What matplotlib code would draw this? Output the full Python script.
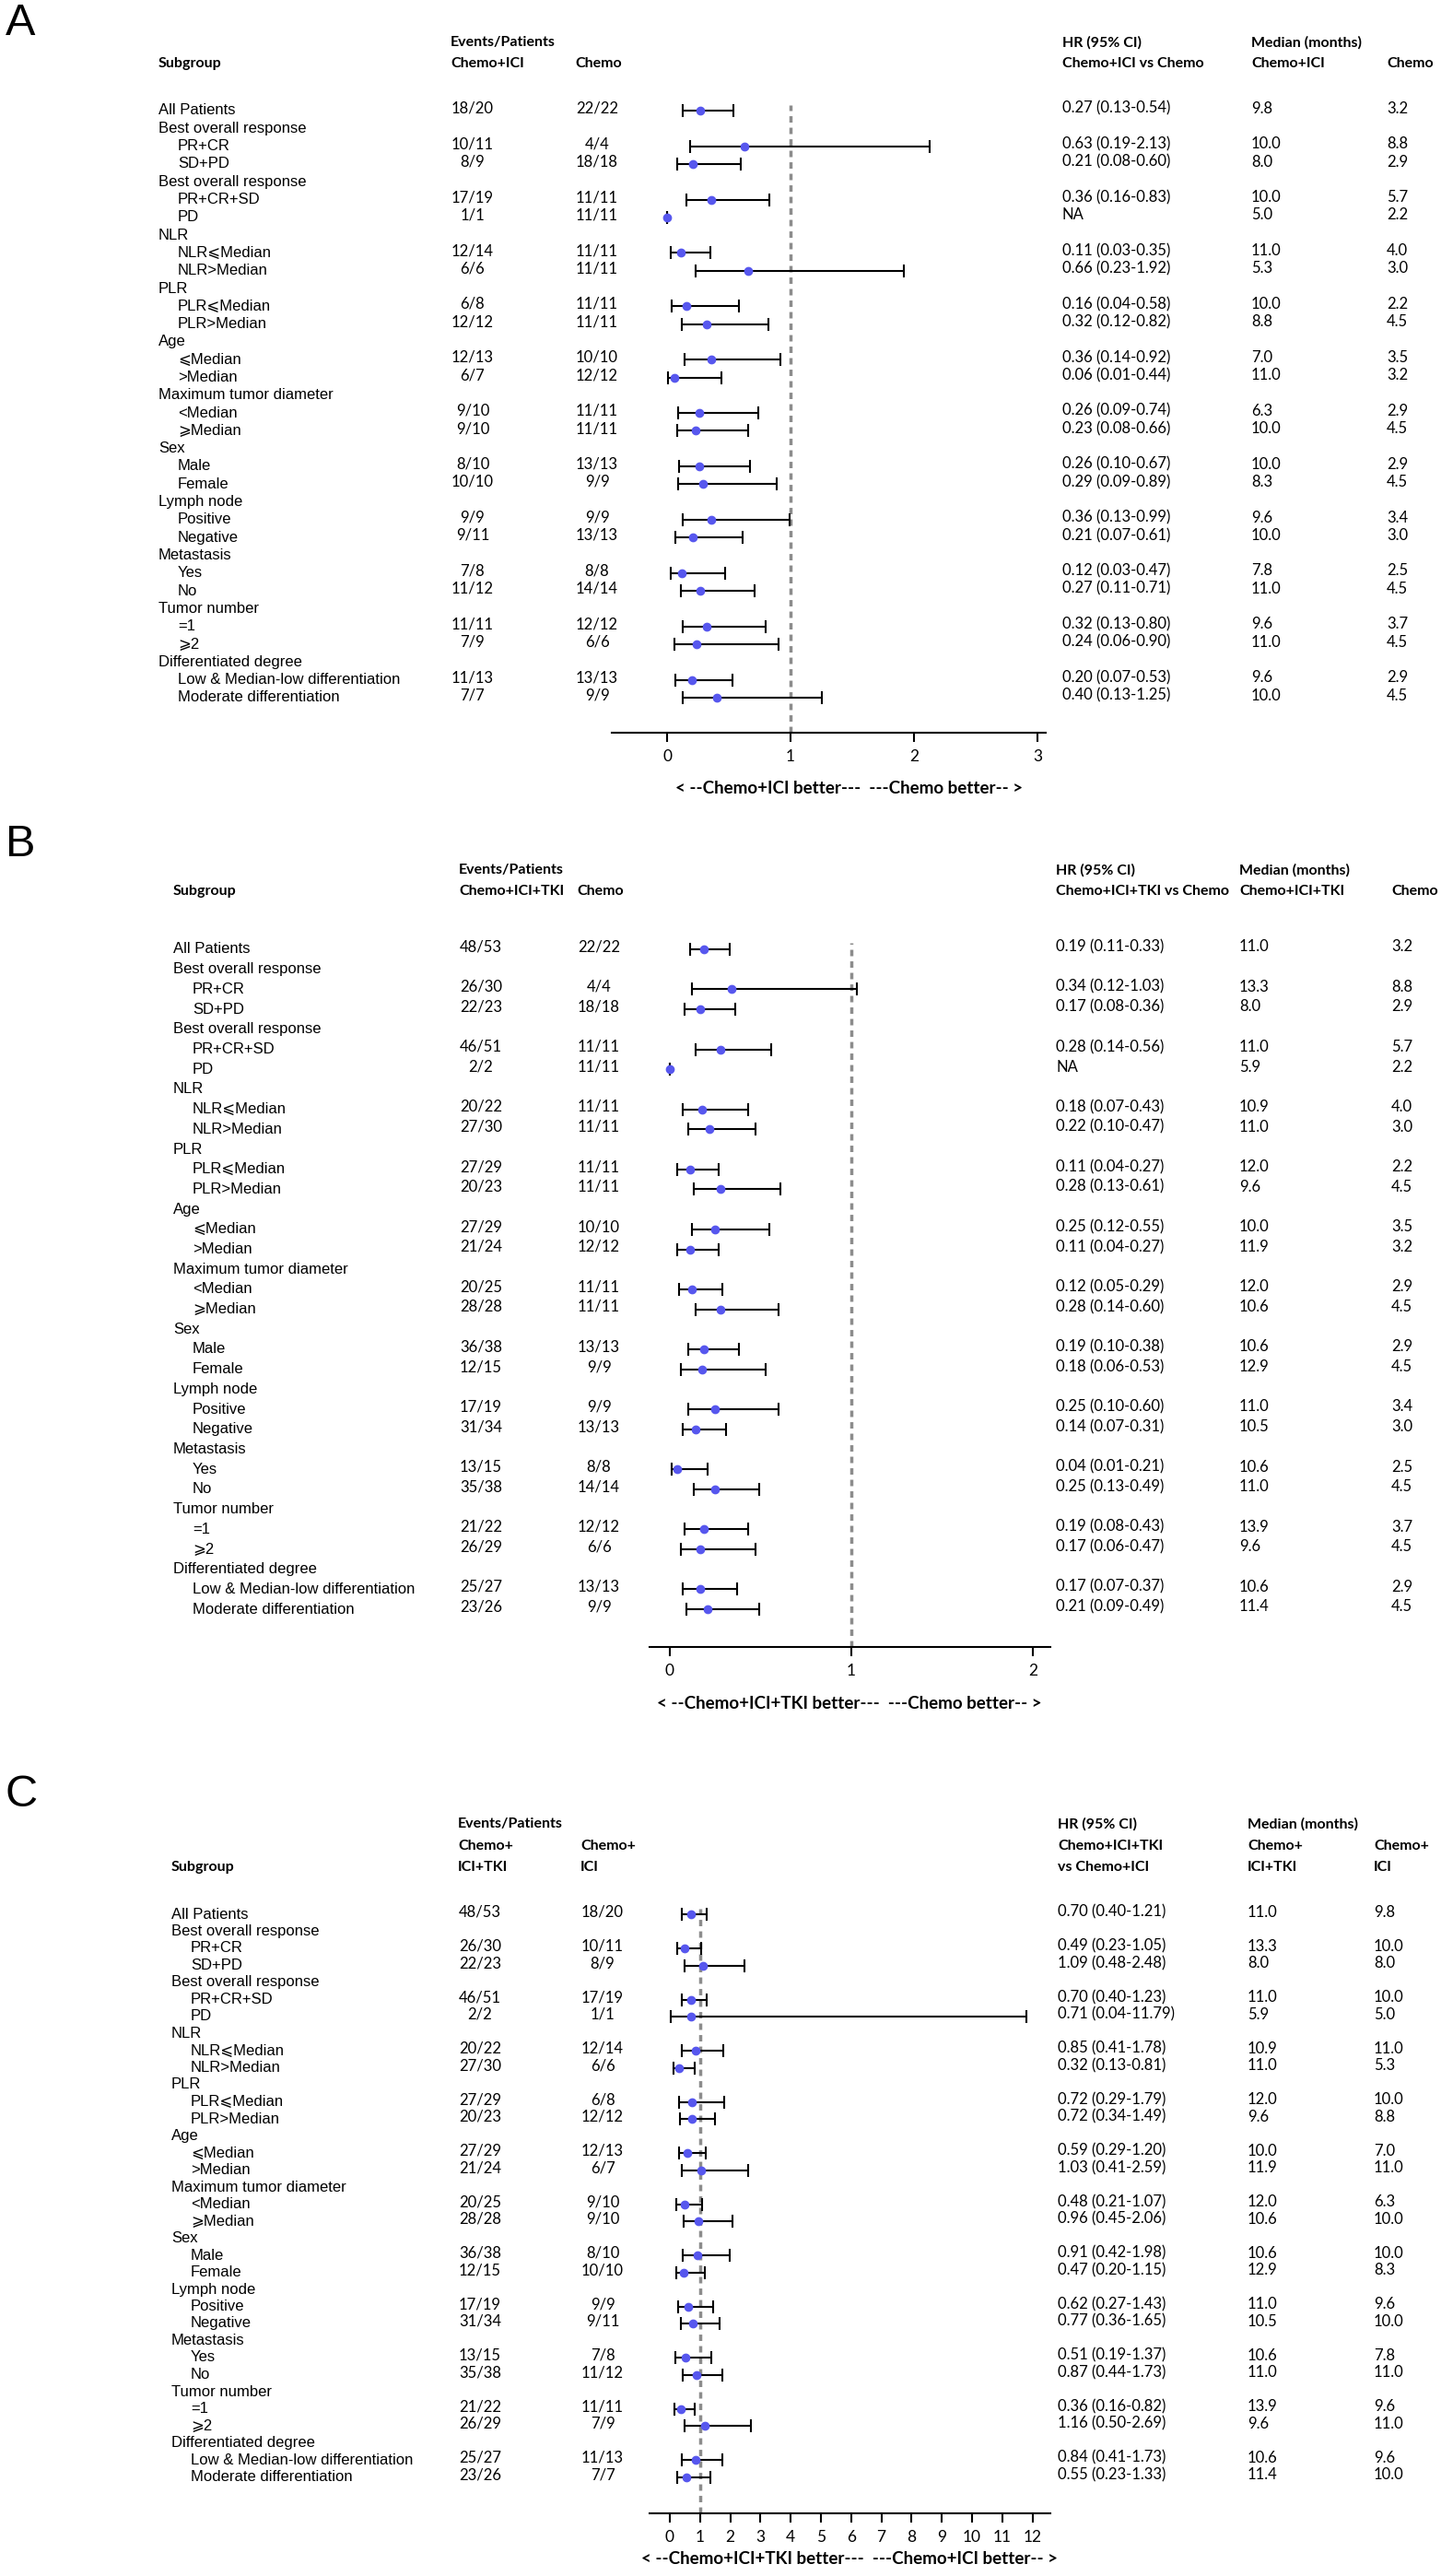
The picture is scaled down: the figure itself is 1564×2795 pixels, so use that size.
import matplotlib
matplotlib.use("Agg")
import matplotlib.pyplot as plt
from matplotlib.transforms import blended_transform_factory
import numpy as np

plt.rcParams['font.family'] = ['Lato', 'DejaVu Sans']

W, H = 1564, 2795
BLUE = '#5757ee'
LABEL_FONT = ['Liberation Sans', 'DejaVu Sans']

# subgroup rows (label, indent)
subgroups = [
    ("All Patients", 0),
    ("Best overall response", 0), ("PR+CR", 1), ("SD+PD", 1),
    ("Best overall response", 0), ("PR+CR+SD", 1), ("PD", 1),
    ("NLR", 0), ("NLR⩽Median", 1), ("NLR>Median", 1),
    ("PLR", 0), ("PLR⩽Median", 1), ("PLR>Median", 1),
    ("Age", 0), ("⩽Median", 1), (">Median", 1),
    ("Maximum tumor diameter", 0), ("<Median", 1), ("⩾Median", 1),
    ("Sex", 0), ("Male", 1), ("Female", 1),
    ("Lymph node", 0), ("Positive", 1), ("Negative", 1),
    ("Metastasis", 0), ("Yes", 1), ("No", 1),
    ("Tumor number", 0), ("=1", 1), ("⩾2", 1),
    ("Differentiated degree", 0), ("Low & Median-low differentiation", 1),
    ("Moderate differentiation", 1),
]
data_rows = [i for i, (lab, ind) in enumerate(subgroups) if ind == 1 or lab == "All Patients"]

# ---- panel A: Chemo+ICI vs Chemo
A_ev1 = ["18/20", "10/11", "8/9", "17/19", "1/1", "12/14", "6/6", "6/8", "12/12", "12/13", "6/7",
         "9/10", "9/10", "8/10", "10/10", "9/9", "9/11", "7/8", "11/12", "11/11", "7/9", "11/13", "7/7"]
A_ev2 = ["22/22", "4/4", "18/18", "11/11", "11/11", "11/11", "11/11", "11/11", "11/11", "10/10", "12/12",
         "11/11", "11/11", "13/13", "9/9", "9/9", "13/13", "8/8", "14/14", "12/12", "6/6", "13/13", "9/9"]
A_hr = [0.27, 0.63, 0.21, 0.36, 0.0, 0.11, 0.66, 0.16, 0.32, 0.36, 0.06, 0.26, 0.23, 0.26, 0.29, 0.36,
        0.21, 0.12, 0.27, 0.32, 0.24, 0.20, 0.40]
A_lo = [0.13, 0.19, 0.08, 0.16, 0.0, 0.03, 0.23, 0.04, 0.12, 0.14, 0.01, 0.09, 0.08, 0.10, 0.09, 0.13,
        0.07, 0.03, 0.11, 0.13, 0.06, 0.07, 0.13]
A_hi = [0.54, 2.13, 0.60, 0.83, 0.0, 0.35, 1.92, 0.58, 0.82, 0.92, 0.44, 0.74, 0.66, 0.67, 0.89, 0.99,
        0.61, 0.47, 0.71, 0.80, 0.90, 0.53, 1.25]
A_med1 = ["9.8", "10.0", "8.0", "10.0", "5.0", "11.0", "5.3", "10.0", "8.8", "7.0", "11.0", "6.3", "10.0",
          "10.0", "8.3", "9.6", "10.0", "7.8", "11.0", "9.6", "11.0", "9.6", "10.0"]
A_med2 = ["3.2", "8.8", "2.9", "5.7", "2.2", "4.0", "3.0", "2.2", "4.5", "3.5", "3.2", "2.9", "4.5",
          "2.9", "4.5", "3.4", "3.0", "2.5", "4.5", "3.7", "4.5", "2.9", "4.5"]

# ---- panel B: Chemo+ICI+TKI vs Chemo
B_ev1 = ["48/53", "26/30", "22/23", "46/51", "2/2", "20/22", "27/30", "27/29", "20/23", "27/29", "21/24",
         "20/25", "28/28", "36/38", "12/15", "17/19", "31/34", "13/15", "35/38", "21/22", "26/29", "25/27", "23/26"]
B_ev2 = A_ev2
B_hr = [0.19, 0.34, 0.17, 0.28, 0.0, 0.18, 0.22, 0.11, 0.28, 0.25, 0.11, 0.12, 0.28, 0.19, 0.18, 0.25,
        0.14, 0.04, 0.25, 0.19, 0.17, 0.17, 0.21]
B_lo = [0.11, 0.12, 0.08, 0.14, 0.0, 0.07, 0.10, 0.04, 0.13, 0.12, 0.04, 0.05, 0.14, 0.10, 0.06, 0.10,
        0.07, 0.01, 0.13, 0.08, 0.06, 0.07, 0.09]
B_hi = [0.33, 1.03, 0.36, 0.56, 0.0, 0.43, 0.47, 0.27, 0.61, 0.55, 0.27, 0.29, 0.60, 0.38, 0.53, 0.60,
        0.31, 0.21, 0.49, 0.43, 0.47, 0.37, 0.49]
B_med1 = ["11.0", "13.3", "8.0", "11.0", "5.9", "10.9", "11.0", "12.0", "9.6", "10.0", "11.9", "12.0",
          "10.6", "10.6", "12.9", "11.0", "10.5", "10.6", "11.0", "13.9", "9.6", "10.6", "11.4"]
B_med2 = A_med2

# ---- panel C: Chemo+ICI+TKI vs Chemo+ICI
C_ev1 = B_ev1
C_ev2 = A_ev1
C_hr = [0.70, 0.49, 1.09, 0.70, 0.71, 0.85, 0.32, 0.72, 0.72, 0.59, 1.03, 0.48, 0.96, 0.91, 0.47, 0.62,
        0.77, 0.51, 0.87, 0.36, 1.16, 0.84, 0.55]
C_lo = [0.40, 0.23, 0.48, 0.40, 0.04, 0.41, 0.13, 0.29, 0.34, 0.29, 0.41, 0.21, 0.45, 0.42, 0.20, 0.27,
        0.36, 0.19, 0.44, 0.16, 0.50, 0.41, 0.23]
C_hi = [1.21, 1.05, 2.48, 1.23, 11.79, 1.78, 0.81, 1.79, 1.49, 1.20, 2.59, 1.07, 2.06, 1.98, 1.15, 1.43,
        1.65, 1.37, 1.73, 0.82, 2.69, 1.73, 1.33]
C_med1 = B_med1
C_med2 = A_med1

HEAD_SIZE = 11.5
DATA_SIZE = 12


def fx(x):
    return x / W


def fy(y):
    return 1 - y / H


def draw_panel(fig, letter, lay, heads, ev1, ev2, hr, lo, hi, med1, med2, xticks, arrow_txt):
    top = lay['first'] - 0.6 * lay['step']
    bottom = lay['axis']
    left, right = lay['ax_l'], lay['ax_r']
    ax = fig.add_axes([fx(left), fy(bottom), (right - left) / W, (bottom - top) / H])
    ybot = (bottom - lay['first']) / lay['step']
    ax.set_ylim(ybot, -0.6)
    ax.set_xlim((left - lay['x0']) / lay['unit'], (right - lay['x0']) / lay['unit'])

    hr, lo, hi = np.array(hr), np.array(lo), np.array(hi)
    rows = np.array(data_rows)
    ax.axvline(1, ymin=0, ymax=(ybot + 0.3) / (ybot + 0.6), color='#8c8c8c', lw=2.5,
               linestyle=(0, (2, 1.6)), zorder=1)
    ax.errorbar(hr, rows, xerr=[hr - lo, hi - hr], fmt='o', ms=6, mfc=BLUE, mec=BLUE,
                ecolor='black', elinewidth=1.5, capsize=5, capthick=1.5, zorder=3)

    for s in ['top', 'left', 'right']:
        ax.spines[s].set_visible(False)
    ax.spines['bottom'].set_linewidth(1.5)
    ax.set_yticks([])
    ax.set_xticks(xticks)
    ax.tick_params(axis='x', direction='out', length=7, width=1.5, labelsize=12.5, pad=6)
    ax.patch.set_alpha(0)

    tr = blended_transform_factory(fig.transFigure, ax.transData)
    for i, (lab, ind) in enumerate(subgroups):
        ax.text(fx(lay['lab_x'] + 21 * ind), i, lab, transform=tr, ha='left', va='center',
                fontsize=12, family=LABEL_FONT)
    for k, r in enumerate(rows):
        yy = r - 0.12
        ax.text(fx(lay['ev1_x']), yy, ev1[k], transform=tr, ha='center', va='center', fontsize=DATA_SIZE)
        ax.text(fx(lay['ev2_x']), yy, ev2[k], transform=tr, ha='center', va='center', fontsize=DATA_SIZE)
        if lo[k] == hi[k]:
            hr_txt = "NA"
        else:
            hr_txt = f"{hr[k]:.2f} ({lo[k]:.2f}-{hi[k]:.2f})"
        ax.text(fx(lay['hr_x']), yy, hr_txt, transform=tr, ha='left', va='center', fontsize=DATA_SIZE)
        ax.text(fx(lay['m1_x']), yy, med1[k], transform=tr, ha='left', va='center', fontsize=DATA_SIZE)
        ax.text(fx(lay['m2_x']), yy, med2[k], transform=tr, ha='left', va='center', fontsize=DATA_SIZE)

    # panel letter and headers
    fig.text(fx(6), fy(lay['letter']), letter, ha='left', va='center', fontsize=35, family=LABEL_FONT)
    hy = lay['head']
    fig.text(fx(lay['lab_x']), fy(hy[-1]), "Subgroup", ha='left', va='center',
             fontsize=HEAD_SIZE, weight='bold')
    fig.text(fx(lay['ev1_x'] - 24), fy(hy[0]), "Events/Patients", ha='left', va='center',
             fontsize=HEAD_SIZE, weight='bold')
    for col, key in [('ev1', 'ev1_x'), ('ev2', 'ev2_x'), ('hr', 'hr_x'), ('m1', 'm1_x'), ('m2', 'm2_x')]:
        x0 = lay[key] - 24 if key in ('ev1_x', 'ev2_x') else lay[key]
        for j, t in enumerate(heads[col]):
            fig.text(fx(x0), fy(hy[len(hy) - len(heads[col]) + j]), t, ha='left', va='center',
                     fontsize=HEAD_SIZE, weight='bold')
    fig.text(fx(922), fy(bottom + lay['arrow']), arrow_txt, ha='center', va='center',
             fontsize=13.5, weight='bold')
    return ax


fig = plt.figure(figsize=(W / 100, H / 100), dpi=100)

lay_A = dict(letter=25, head=[46, 69], first=120, step=19.3, axis=795, arrow=61, x0=724, unit=134,
             ax_l=664, ax_r=1135,
             lab_x=172, ev1_x=513, ev2_x=648, hr_x=1153, m1_x=1358, m2_x=1505)
heads_A = dict(ev1=["Chemo+ICI"], ev2=["Chemo"], hr=["HR (95% CI)", "Chemo+ICI vs Chemo"],
               m1=["Median (months)", "Chemo+ICI"], m2=["Chemo"])
draw_panel(fig, "A", lay_A, heads_A, A_ev1, A_ev2, A_hr, A_lo, A_hi, A_med1, A_med2,
           [0, 1, 2, 3], "< --Chemo+ICI better---  ---Chemo better-- >")

lay_B = dict(letter=916, head=[944, 967], first=1030, step=21.7, axis=1787, arrow=61, x0=727, unit=197,
             ax_l=705, ax_r=1140,
             lab_x=188, ev1_x=522, ev2_x=650, hr_x=1146, m1_x=1345, m2_x=1510)
heads_B = dict(ev1=["Chemo+ICI+TKI"], ev2=["Chemo"], hr=["HR (95% CI)", "Chemo+ICI+TKI vs Chemo"],
               m1=["Median (months)", "Chemo+ICI+TKI"], m2=["Chemo"])
draw_panel(fig, "B", lay_B, heads_B, B_ev1, B_ev2, B_hr, B_lo, B_hi, B_med1, B_med2,
           [0, 1, 2], "< --Chemo+ICI+TKI better---  ---Chemo better-- >")

lay_C = dict(letter=1947, head=[1979, 2003, 2026], first=2077, step=18.5, axis=2727, arrow=50, x0=727,
             unit=32.8, ax_l=705, ax_r=1140,
             lab_x=186, ev1_x=521, ev2_x=654, hr_x=1148, m1_x=1354, m2_x=1491)
heads_C = dict(ev1=["Chemo+", "ICI+TKI"], ev2=["Chemo+", "ICI"],
               hr=["HR (95% CI)", "Chemo+ICI+TKI", "vs Chemo+ICI"],
               m1=["Median (months)", "Chemo+", "ICI+TKI"], m2=["Chemo+", "ICI"])
draw_panel(fig, "C", lay_C, heads_C, C_ev1, C_ev2, C_hr, C_lo, C_hi, C_med1, C_med2,
           list(range(13)), "< --Chemo+ICI+TKI better---  ---Chemo+ICI better-- >")

fig.savefig("out.png", dpi=100)
